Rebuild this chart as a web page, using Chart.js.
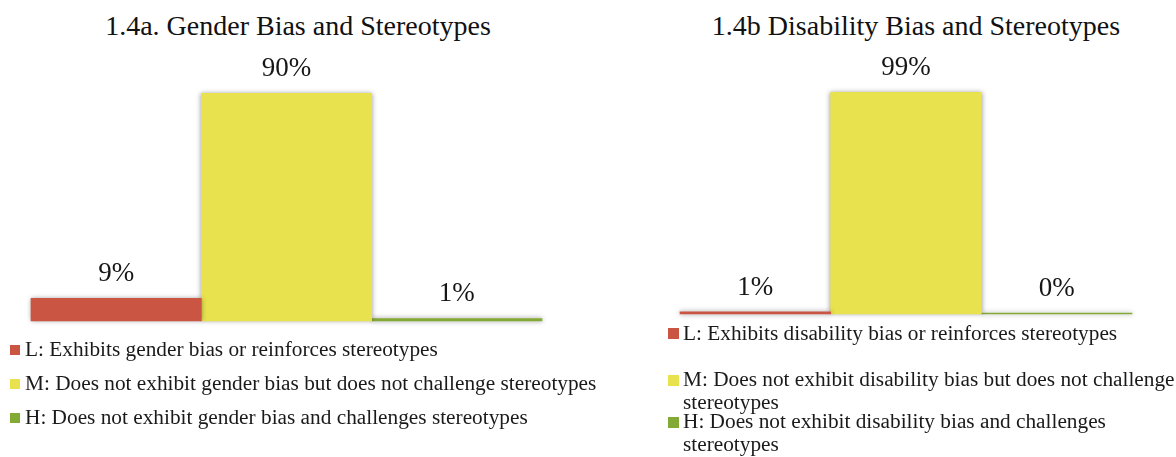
<!DOCTYPE html>
<html>
<head>
<meta charset="utf-8">
<script src="https://cdn.jsdelivr.net/npm/chart.js@4.4.1/dist/chart.umd.min.js"></script>
<style>
  html, body { margin: 0; padding: 0; background: #fff; overflow: hidden; }
  body { width: 1176px; height: 457px; position: relative;
         font-family: 'Liberation Serif', 'Times New Roman', serif; color: #1a1a1a; }
  .title { position: absolute; top: 12px; font-size: 28px; line-height: 28px;
           text-align: center; white-space: nowrap; color: #111; }
  .box { position: absolute; top: 0; }
  .legend { position: absolute; font-size: 21.3px; }
  .item { position: absolute; left: 0; }
  .swatch { position: absolute; }
</style>
</head>
<body>
<div class="title" style="left:0;width:596px;">1.4a. Gender Bias and Stereotypes</div>
<div class="title" style="left:656px;width:520px;">1.4b Disability Bias and Stereotypes</div>

<div class="box" style="left:0;width:596px;height:340px;"><canvas id="gender" width="596" height="340"></canvas></div>
<div class="box" style="left:600px;width:576px;height:340px;"><canvas id="disability" width="576" height="340"></canvas></div>

<div class="legend" id="genderLegend"></div>
<div class="legend" id="disabilityLegend"></div>

<script>
// Rating levels and their colours
const levels = ['L', 'M', 'H'];
const levelColors = ['#CA5542', '#E8E24F', '#84AA36'];

// Share of items at each level (%)
const genderValues = [9, 90, 1];
const disabilityValues = [1, 99, 0];

// Legend texts
const genderLabels = [
  'L: Exhibits gender bias or reinforces stereotypes',
  'M: Does not exhibit gender bias but does not challenge stereotypes',
  'H: Does not exhibit gender bias and challenges stereotypes'
];
const disabilityLabels = [
  'L: Exhibits disability bias or reinforces stereotypes',
  'M: Does not exhibit disability bias but does not challenge stereotypes',
  'H: Does not exhibit disability bias and challenges stereotypes'
];

// Soft drop shadow under the bars plus percentage labels above each bar
const barDecor = {
  id: 'barDecor',
  beforeDatasetsDraw(chart) {
    const ctx = chart.ctx;
    ctx.save();
    ctx.shadowColor = 'rgba(0,0,0,0.42)';
    ctx.shadowBlur = 5;
    ctx.shadowOffsetX = 0;
    ctx.shadowOffsetY = 0;
  },
  afterDatasetsDraw(chart) {
    const ctx = chart.ctx;
    ctx.restore();
    ctx.save();
    ctx.font = '27px "Liberation Serif", "Times New Roman", serif';
    ctx.fillStyle = '#161616';
    ctx.textAlign = 'center';
    ctx.textBaseline = 'alphabetic';
    chart.data.datasets.forEach((ds, i) => {
      const bar = chart.getDatasetMeta(i).data[0];
      ctx.fillText(ds.data[0] + '%', bar.x, bar.y - 17);
    });
    ctx.restore();
  }
};

function makeChart(id, values, labels, padding) {
  return new Chart(document.getElementById(id), {
    type: 'bar',
    data: {
      labels: [''],
      datasets: levels.map((lv, i) => ({
        label: labels[i],
        data: [values[i]],
        backgroundColor: levelColors[i],
        borderWidth: 0,
        categoryPercentage: 1,
        barPercentage: 1,
        minBarLength: 1,
        clip: false
      }))
    },
    options: {
      responsive: false,
      animation: false,
      devicePixelRatio: 1,
      layout: { padding },
      scales: {
        x: { display: false },
        y: { display: false, min: 0, max: 100 }
      },
      plugins: {
        legend: { display: false },
        title: { display: false },
        tooltip: { enabled: false }
      }
    },
    plugins: [barDecor]
  });
}

makeChart('gender', genderValues, genderLabels, { left: 31, right: 54, top: 68, bottom: 19 });
makeChart('disability', disabilityValues, disabilityLabels, { left: 80, right: 44, top: 90, bottom: 26 });

// Vertical legends below each chart
function buildLegend(elId, labels, opts) {
  const el = document.getElementById(elId);
  el.style.left = opts.left + 'px';
  el.style.top = '0px';
  labels.forEach((text, i) => {
    const sw = document.createElement('div');
    sw.className = 'swatch';
    sw.style.background = levelColors[i];
    sw.style.width = opts.sw + 'px';
    sw.style.height = opts.sw + 'px';
    sw.style.left = '0px';
    sw.style.top = (opts.centers[i] - opts.sw / 2) + 'px';
    el.appendChild(sw);
    const it = document.createElement('div');
    it.className = 'item';
    it.textContent = text;
    it.style.left = opts.textX + 'px';
    it.style.lineHeight = opts.lh + 'px';
    it.style.top = (opts.centers[i] - opts.capMid) + 'px';
    it.style.width = opts.width ? opts.width + 'px' : 'auto';
    it.style.whiteSpace = opts.width ? 'normal' : 'nowrap';
    el.appendChild(it);
  });
}

buildLegend('genderLegend', genderLabels,
  { left: 10, sw: 10, textX: 15, lh: 23, capMid: 11.6, centers: [350, 384, 418] });
buildLegend('disabilityLegend', disabilityLabels,
  { left: 668, sw: 11, textX: 15, lh: 23, capMid: 11.6, centers: [333.5, 380, 422], width: 500 });
</script>
</body>
</html>
